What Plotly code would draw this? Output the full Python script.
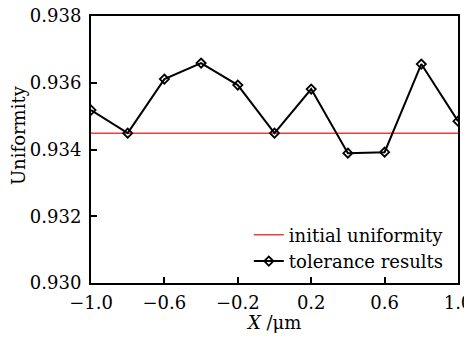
import plotly.graph_objects as go

x_vals = [-1.0, -0.8, -0.6, -0.4, -0.2, 0.0, 0.2, 0.4, 0.6, 0.8, 1.0]
tolerance = [0.93518, 0.93449, 0.93611, 0.93659, 0.93593, 0.93449, 0.93581, 0.93389, 0.93392, 0.93656, 0.93485]
initial_uniformity = 0.93449
x_ticks = [-1.0, -0.6, -0.2, 0.2, 0.6, 1.0]
x_tick_text = ["\u22121.0", "\u22120.6", "\u22120.2", "0.2", "0.6", "1.0"]
y_ticks = [0.930, 0.932, 0.934, 0.936, 0.938]
y_tick_text = ["0.930", "0.932", "0.934", "0.936", "0.938"]

font_family = "DejaVu Serif, serif"
FS = 18

fig = go.Figure()
fig.add_trace(go.Scatter(
    x=[x_vals[0], x_vals[-1]], y=[initial_uniformity, initial_uniformity],
    mode="lines", line=dict(color="#e8413e", width=1.5),
    name="initial uniformity"))
fig.add_trace(go.Scatter(
    x=x_vals, y=tolerance, mode="lines+markers",
    line=dict(color="black", width=2),
    marker=dict(symbol="diamond-open", size=7, color="black", line=dict(width=1.8)),
    name="tolerance results"))

fig.add_annotation(text="Uniformity", textangle=-90, xref="paper", yref="paper",
                   x=-0.199, y=0.554, xanchor="center", yanchor="middle",
                   showarrow=False, font=dict(size=FS))
fig.add_annotation(text="<i>X</i> /\u03bcm", xref="paper", yref="paper",
                   x=0.496, y=-0.149, xanchor="center", yanchor="middle",
                   showarrow=False, font=dict(size=FS))

fig.update_layout(
    width=464, height=330,
    margin=dict(l=83, r=14, t=8, b=55),
    paper_bgcolor="white", plot_bgcolor="white",
    font=dict(family=font_family, size=FS, color="black"),
    showlegend=True,
    legend=dict(x=0.430, y=0.249, xanchor="left", yanchor="top",
                bgcolor="rgba(0,0,0,0)", font=dict(size=FS),
                tracegroupgap=0, itemwidth=30),
    xaxis=dict(range=[-1.0, 1.0], tickvals=x_ticks, ticktext=x_tick_text,
               ticks="inside", ticklen=6, tickwidth=2, tickcolor="black",
               showline=True, linewidth=2, linecolor="black", mirror=True,
               showgrid=False, zeroline=False, automargin=False,
               ticklabelstandoff=2, ticklabeloverflow="allow"),
    yaxis=dict(range=[0.930, 0.938], tickvals=y_ticks, ticktext=y_tick_text,
               ticks="inside", ticklen=6, tickwidth=2, tickcolor="black",
               showline=True, linewidth=2, linecolor="black", mirror=True,
               showgrid=False, zeroline=False, automargin=False,
               ticklabelstandoff=4, ticklabeloverflow="allow"),
)

fig.write_html("out.html")
